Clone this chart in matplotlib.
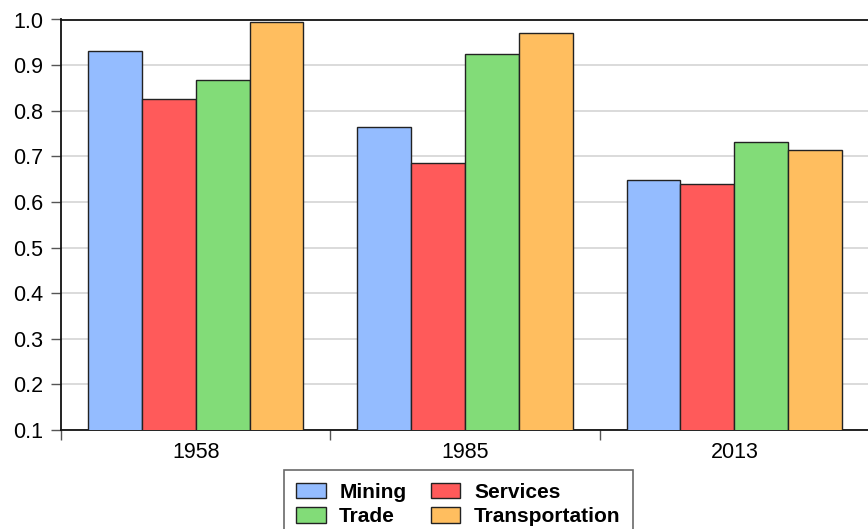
import matplotlib
matplotlib.use("Agg")
import matplotlib.pyplot as plt
import numpy as np
from matplotlib.patches import Patch

years = ["1958", "1985", "2013"]
series_names = ["Mining", "Services", "Trade", "Transportation"]
mining = [0.932, 0.764, 0.648]
services = [0.825, 0.685, 0.639]
trade = [0.867, 0.924, 0.731]
transportation = [0.995, 0.970, 0.714]
colors = ["#94BCFF", "#FF5A5A", "#82DC78", "#FFBE5F"]
yticks = [0.1, 0.2, 0.3, 0.4, 0.5, 0.6, 0.7, 0.8, 0.9, 1.0]

plt.rcParams['font.family'] = ['Liberation Sans', 'DejaVu Sans']

W, H = 868, 529
fig = plt.figure(figsize=(W / 100, H / 100), dpi=100)
ax = fig.add_axes([61 / W, 1 - 430 / H, 808 / W, 410.5 / H])

values = [mining, services, trade, transportation]
x = np.arange(len(years))
bw = 0.2
for i, (vals, c) in enumerate(zip(values, colors)):
    ax.bar(x - 0.3 + i * bw, vals, width=bw, color=c, edgecolor="#222222",
           linewidth=1.0, zorder=3)

ax.set_ylim(0.1, 1.0)
ax.set_xlim(-0.5, 2.5)
ax.set_yticks(yticks)
ax.set_yticklabels([f"{v:.1f}" for v in yticks])
ax.yaxis.grid(True, color="#d4d4d4", linewidth=1.2, zorder=0)
ax.set_axisbelow(True)

ax.set_xticks([-0.5, 0.5, 1.5, 2.5])
ax.set_xticklabels([])
ax.set_xticks(x, minor=True)
ax.set_xticklabels(years, minor=True)
ax.tick_params(axis='x', which='major', length=7, width=1, color="#555555", direction='out')
ax.tick_params(axis='x', which='minor', length=0, pad=9, labelsize=15.5)
ax.tick_params(axis='y', length=7, width=1, color="#555555", direction='out', pad=6, labelsize=15.5)

for s in ["left", "bottom", "top"]:
    ax.spines[s].set_color("#111111")
    ax.spines[s].set_linewidth(1.3)
ax.spines["right"].set_visible(False)

handles = [Patch(facecolor=colors[0], edgecolor="#222222", label="Mining"),
           Patch(facecolor=colors[2], edgecolor="#222222", label="Trade"),
           Patch(facecolor=colors[1], edgecolor="#222222", label="Services"),
           Patch(facecolor=colors[3], edgecolor="#222222", label="Transportation")]
leg = fig.legend(handles=handles, loc="upper center", ncol=2,
                 bbox_to_anchor=(458.5 / W, 1 - 470 / H),
                 prop={'weight': 'bold', 'size': 15},
                 frameon=True, fancybox=False, edgecolor="#444444",
                 handlelength=1.4, handleheight=0.8, handletextpad=0.65,
                 columnspacing=1.2, labelspacing=0.25, borderpad=0.6,
                 borderaxespad=0)
leg.get_frame().set_linewidth(1.2)

fig.savefig("out.png", dpi=100)
